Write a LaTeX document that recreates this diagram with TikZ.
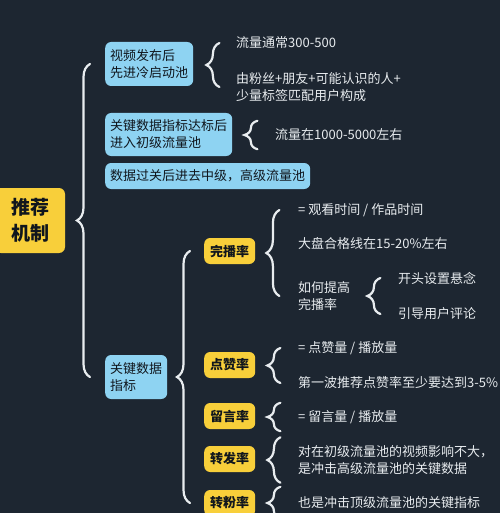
\documentclass[tikz,border=0pt]{standalone}
\definecolor{mBg}{HTML}{1D2631}
\definecolor{mSky}{HTML}{8ED3F2}
\definecolor{mGold}{HTML}{F8CF3A}
\definecolor{mInk}{HTML}{10161D}
\definecolor{mChalk}{HTML}{E8ECEF}
\usepackage{fontspec}
\setmainfont{Noto Sans CJK SC}
\usepackage{xcolor}
\usepackage{tikz}
\usetikzlibrary{positioning,calc,decorations.pathreplacing}

\begin{document}
\begin{tikzpicture}[x=1pt, y=-1pt, font=\fontsize{13}{17}\selectfont,
  rootbox/.style={fill=mGold, text=mInk, rounded corners=6pt, align=center, font=\fontsize{19}{26}\selectfont\bfseries, minimum width=70pt, minimum height=65pt},
  skybox/.style={fill=mSky, text=mInk, rounded corners=6pt, align=left, anchor=west, inner xsep=5pt},
  goldbox/.style={fill=mGold, text=mInk, rounded corners=6pt, anchor=west, font=\fontsize{13}{17}\selectfont\bfseries, minimum width=51pt, minimum height=26pt, inner xsep=4pt},
  leaf/.style={text=mChalk, align=left, anchor=west, inner sep=0pt},
  brc/.style={draw=mChalk, line width=2.2pt, line cap=round, decorate, decoration={brace, amplitude=13pt}}]
\fill[mBg] (0,0) rectangle (500,513);
\useasboundingbox (0,0) rectangle (500,513);
% root and first level
\node[rootbox] (root) at (30,220.5) {推荐\\机制};
\node[skybox, minimum height=44pt] (cold) at (105,64) {视频发布后\\先进冷启动池};
\node[skybox, minimum height=43pt] (basic) at (105,134.5) {关键数据指标达标后\\进入初级流量池};
\node[skybox, minimum height=26pt] (upper) at (105,176) {数据过关后进去中级，高级流量池};
\node[skybox, minimum height=44pt] (metric) at (105,377) {关键数据\\指标};
\draw[brc] ([xshift=-15pt]metric.west) -- ([xshift=-15pt]cold.west);
% cold start pool
\node[leaf] (coldA) at (236,43) {流量通常300-500};
\node[leaf] (coldB) at (236,87) {由粉丝+朋友+可能认识的人+\\少量标签匹配用户构成};
\coordinate (coldK) at ($(cold.east)+(26,0)$);
\draw[brc] (coldK |- coldB.west) -- (coldK |- coldA.west);
% first traffic pool
\node[leaf, minimum height=28pt] (basicA) at (275,135) {流量在1000-5000左右};
\coordinate (basicK) at ($(basic.east)+(25,0)$);
\draw[brc] (basicK |- basicA.south) -- (basicK |- basicA.north);
% key metrics
\node[goldbox] (finish) at (204,251) {完播率};
\node[goldbox] (like) at (204,365) {点赞率};
\node[goldbox] (comment) at (204,416) {留言率};
\node[goldbox] (share) at (204,459) {转发率};
\node[goldbox] (follow) at (204,503) {转粉率};
\draw[brc] ([xshift=-14pt]follow.west) -- ([xshift=-14pt]finish.west);
% completion rate
\node[leaf] (finishA) at (298,210) {= 观看时间 / 作品时间};
\node[leaf] (finishB) at (298,243) {大盘合格线在15-20\%左右};
\node[leaf] (finishC) at (298,296) {如何提高\\完播率};
\coordinate (finishK) at ($(finish.east)+(24,0)$);
\draw[brc] (finishK |- finishC.west) -- (finishK |- finishA.west);
\node[leaf] (hookA) at (398,278) {开头设置悬念};
\node[leaf] (hookB) at (398,314) {引导用户评论};
\coordinate (hookK) at ($(finishC.east)+(30,0)$);
\draw[brc] (hookK |- hookB.west) -- (hookK |- hookA.west);
% like rate
\node[leaf] (likeA) at (298,348) {= 点赞量 / 播放量};
\node[leaf] (likeB) at (298,383) {第一波推荐点赞率至少要达到3-5\%};
\coordinate (likeK) at ($(like.east)+(25,0)$);
\draw[brc] (likeK |- likeB.west) -- (likeK |- likeA.west);
% comment rate
\node[leaf, minimum height=28pt] (commentA) at (298,417) {= 留言量 / 播放量};
\coordinate (commentK) at ($(comment.east)+(25,0)$);
\draw[brc] (commentK |- commentA.south) -- (commentK |- commentA.north);
% share rate
\node[leaf, minimum height=45pt] (shareA) at (298,460) {对在初级流量池的视频影响不大，\\是冲击高级流量池的关键数据};
\coordinate (shareK) at ($(share.east)+(25,0)$);
\draw[brc] (shareK |- shareA.south) -- (shareK |- shareA.north);
% follow rate
\node[leaf, minimum height=32pt] (followA) at (298,503) {也是冲击顶级流量池的关键指标};
\coordinate (followK) at ($(follow.east)+(25,0)$);
\draw[brc] (followK |- followA.south) -- (followK |- followA.north);
\end{tikzpicture}
\end{document}
